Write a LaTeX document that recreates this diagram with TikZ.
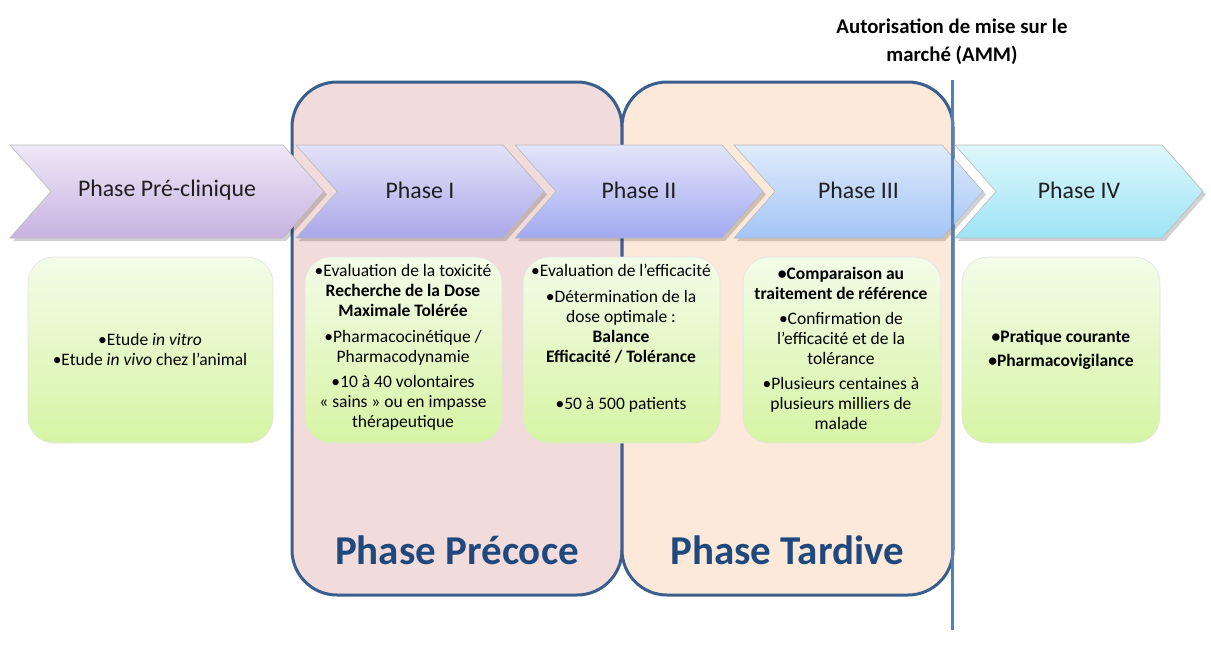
\documentclass[tikz,border=0pt]{standalone}
\usepackage{fontspec}
\setmainfont{Carlito}
\definecolor{bigblue}{HTML}{3A5F8E}
\definecolor{precfill}{HTML}{F2DCDB}
\definecolor{tardfill}{HTML}{FDE9D9}
\definecolor{labblue}{HTML}{1F497D}
\definecolor{ammblue}{HTML}{4F81BD}
\definecolor{gtop}{HTML}{F3FCE8}
\definecolor{gbot}{HTML}{D6F4A4}
\definecolor{c1t}{HTML}{EEE8F7}
\definecolor{c1b}{HTML}{C7B2E0}
\definecolor{c2t}{HTML}{E4E2F8}
\definecolor{c2b}{HTML}{ABA7EA}
\definecolor{c3t}{HTML}{E3E5FA}
\definecolor{c3b}{HTML}{A1A9F0}
\definecolor{c4t}{HTML}{DFEBFC}
\definecolor{c4b}{HTML}{A3C5F6}
\definecolor{c5t}{HTML}{DEF7FC}
\definecolor{c5b}{HTML}{9EE4F5}
\begin{document}
\begin{tikzpicture}[x=1pt,y=-1pt,
  bigbox/.style={draw=bigblue, line width=3pt, rounded corners=45pt, inner sep=0pt},
  biglabel/.style={font=\fontsize{41}{46}\selectfont\bfseries, text=labblue},
  chevbox/.style={draw=gray!55, line width=0.6pt},
  chevshadow/.style={fill=black, opacity=0.18},
  chevlabel/.style={font=\fontsize{23.8}{28}\selectfont, text=black!88},
  greenbox/.style={draw=gray!22, line width=0.6pt, rounded corners=26pt, top color=gtop, bottom color=gbot, inner sep=0pt},
  boxtext/.style={align=center, font=\fontsize{17.5}{20}\selectfont, text=black, inner sep=0pt},
  ammline/.style={draw=ammblue, line width=3pt},
  ammlabel/.style={align=center, font=\fontsize{20.8}{28}\selectfont\bfseries, text=black}]
\useasboundingbox (0,0) rectangle (1211,651);
% phase groups
\node[bigbox, fill=precfill, minimum width=330pt, minimum height=513pt] (prec) at (457,338.5) {};
\node[bigbox, fill=tardfill, minimum width=331pt, minimum height=513pt] (tard) at (787.5,338.5) {};
\node[biglabel] (precl) at (457,550) {Phase Précoce};
\node[biglabel] (tardl) at (787,550) {Phase Tardive};
% chevrons
\foreach \L/\R/\ct/\cb/\nm/\txt in {10/283/c1t/c1b/pre/{Phase Pré-clinique},296/503/c2t/c2b/ph1/{Phase I},515/722/c3t/c3b/ph2/{Phase II},734/942/c4t/c4b/ph3/{Phase III},955/1162/c5t/c5b/ph4/{Phase IV}}{
  \fill[chevshadow, shift={(3,3)}] (\L,145) -- (\R,145) -- ({\R+41},191.5) -- (\R,238) -- (\L,238) -- ({\L+41},191.5) -- cycle;
  \path[chevbox, top color=\ct, bottom color=\cb] (\L,145) -- (\R,145) -- ({\R+41},191.5) -- (\R,238) -- (\L,238) -- ({\L+41},191.5) -- cycle;
  \node[chevlabel] (\nm) at ({(\L+41+\R)/2},190) {\txt};
}
% AMM
\node[ammlabel] (amm) at (952,42) {Autorisation de mise sur le\\marché (AMM)};
\coordinate (ammtop) at (952,80);
\coordinate (ammbot) at (952,630);
\draw[ammline] (ammtop) -- (ammbot);
% green boxes
\node[greenbox, minimum width=245pt, minimum height=186pt] (b1) at (150.5,350) {};
\node[greenbox, minimum width=197pt, minimum height=186pt] (b2) at (403.5,350) {};
\node[greenbox, minimum width=197pt, minimum height=186pt] (b3) at (621.5,350) {};
\node[greenbox, minimum width=198pt, minimum height=186pt] (b4) at (842,350) {};
\node[greenbox, minimum width=198pt, minimum height=186pt] (b5) at (1061,350) {};
\node[boxtext] (t1) at (150,349) {•Etude \textit{in vitro}\\•Etude \textit{in vivo} chez l’animal};
\node[boxtext] (t2) at (403,347) {•Evaluation de la toxicité\\\textbf{Recherche de la Dose}\\\textbf{Maximale Tolérée}\\[6pt]•Pharmacocinétique /\\Pharmacodynamie\\[5pt]•10 à 40 volontaires\\« sains » ou en impasse\\thérapeutique};
\node[boxtext] (t3) at (621,338.5) {•Evaluation de l’efficacité\\[6pt]•Détermination de la\\dose optimale :\\\textbf{Balance}\\\textbf{Efficacité / Tolérance}\\[27pt]•50 à 500 patients};
\node[boxtext] (t4) at (841,348.5) {\textbf{•Comparaison au}\\\textbf{traitement de référence}\\[5pt]•Confirmation de\\l’efficacité et de la\\tolérance\\[5pt]•Plusieurs centaines à\\plusieurs milliers de\\malade};
\node[boxtext] (t5) at (1061,350) {\textbf{•Pratique courante}\\[4pt]\textbf{•Pharmacovigilance}};
\end{tikzpicture}
\end{document}
